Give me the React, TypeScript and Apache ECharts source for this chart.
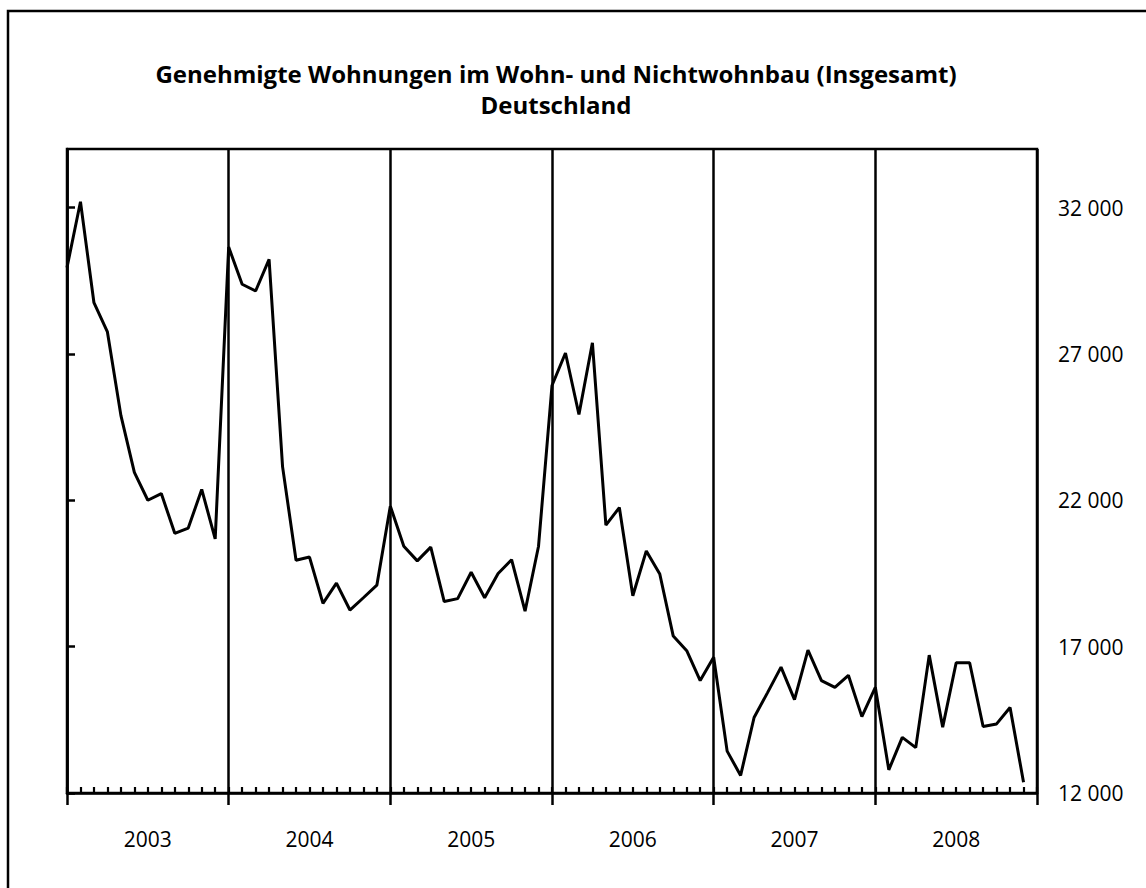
import React, { useEffect, useRef } from "react";
import * as echarts from "echarts";

const years = ["2003", "2004", "2005", "2006", "2007", "2008"];
const v2003 = [29950, 32200, 28750, 27750, 24900, 22950, 22000, 22230, 20870, 21050, 22370, 20680];
const v2004 = [30650, 29380, 29150, 30230, 23150, 19950, 20060, 18480, 19170, 18250, 18670, 19100];
const v2005 = [21800, 20430, 19930, 20400, 18540, 18640, 19540, 18670, 19500, 19970, 18210, 20430];
const v2006 = [25920, 27030, 24930, 27380, 21150, 21750, 18740, 20270, 19480, 17360, 16860, 15840];
const v2007 = [16640, 13430, 12600, 14580, 15430, 16300, 15190, 16880, 15840, 15610, 16020, 14610];
const v2008 = [15610, 12790, 13900, 13550, 16710, 14250, 16450, 16450, 14270, 14360, 14920, 12370];
const yTicks = [12000, 17000, 22000, 27000, 32000];
const titleLine1 = "Genehmigte Wohnungen im Wohn- und Nichtwohnbau (Insgesamt)";
const titleLine2 = "Deutschland";

const monthly = [v2003, v2004, v2005, v2006, v2007, v2008].flat();
const seriesData = monthly.map((v, i) => [i, v]);

const fmt = (v: number) => String(v).replace(/\B(?=(\d{3})+(?!\d))/g, " ");

export default function App() {
  const ref = useRef<HTMLDivElement>(null);
  useEffect(() => {
    if (!ref.current) return;
    const chart = echarts.init(ref.current, null, { renderer: "svg" });
    const font = "Open Sans";
    const lw = 2.5;
    chart.setOption({
      animation: false,
      backgroundColor: "#ffffff",
      grid: {
        left: 67,
        right: 109,
        top: 149,
        bottom: 95,
        show: true,
        borderColor: "#000",
        borderWidth: lw,
        containLabel: false,
        outerBoundsMode: "none",
      },
      graphic: [
        {
          type: "rect",
          shape: { x: 8, y: 11, width: 1300, height: 1000 },
          style: { fill: "none", stroke: "#000", lineWidth: 2.5 },
          silent: true,
        },
        {
          type: "text",
          x: 556,
          y: 73,
          style: {
            text: titleLine1,
            fill: "#000",
            font: `bold 24px "${font}"`,
            textAlign: "center",
            textVerticalAlign: "middle",
          },
        },
        {
          type: "text",
          x: 556,
          y: 104,
          style: {
            text: titleLine2,
            fill: "#000",
            font: `bold 24px "${font}"`,
            textAlign: "center",
            textVerticalAlign: "middle",
          },
        },
      ],
      xAxis: [
        {
          type: "value",
          min: 0,
          max: 72,
          interval: 12,
          axisLine: { show: true, lineStyle: { color: "#000", width: lw } },
          axisTick: { show: true, length: 12, lineStyle: { color: "#000", width: lw } },
          axisLabel: { show: false },
          splitLine: { show: true, lineStyle: { color: "#000", width: lw } },
        },
        {
          type: "value",
          min: 0,
          max: 72,
          interval: 1,
          position: "bottom",
          axisLine: { show: false },
          axisTick: { show: true, inside: true, length: 6, lineStyle: { color: "#000", width: 2.2 } },
          axisLabel: { show: false },
          splitLine: { show: false },
        },
        {
          type: "category",
          data: years,
          boundaryGap: true,
          position: "bottom",
          axisLine: { show: false },
          axisTick: { show: false },
          axisLabel: {
            show: true,
            color: "#000",
            fontSize: 21,
            fontFamily: font,
            margin: 35,
          },
          splitLine: { show: false },
        },
      ],
      yAxis: {
        type: "value",
        position: "right",
        min: 12000,
        max: 34000,
        axisLine: { show: true, lineStyle: { color: "#000", width: lw } },
        axisTick: {
          show: true,
          length: 8,
          customValues: yTicks,
          lineStyle: { color: "#000", width: lw },
        },
        axisLabel: {
          show: true,
          customValues: yTicks,
          color: "#000",
          fontSize: 21,
          fontFamily: font,
          margin: 21,
          formatter: (v: number) => fmt(v),
        },
        splitLine: { show: false },
      },
      series: [
        {
          type: "line",
          xAxisIndex: 0,
          data: seriesData,
          symbol: "none",
          lineStyle: { color: "#000", width: 3 },
          z: 5,
        },
      ],
    });
    return () => chart.dispose();
  }, []);
  return (
    <div
      ref={ref}
      style={{ position: "fixed", left: 0, top: 0, width: 1146, height: 888 }}
    />
  );
}
